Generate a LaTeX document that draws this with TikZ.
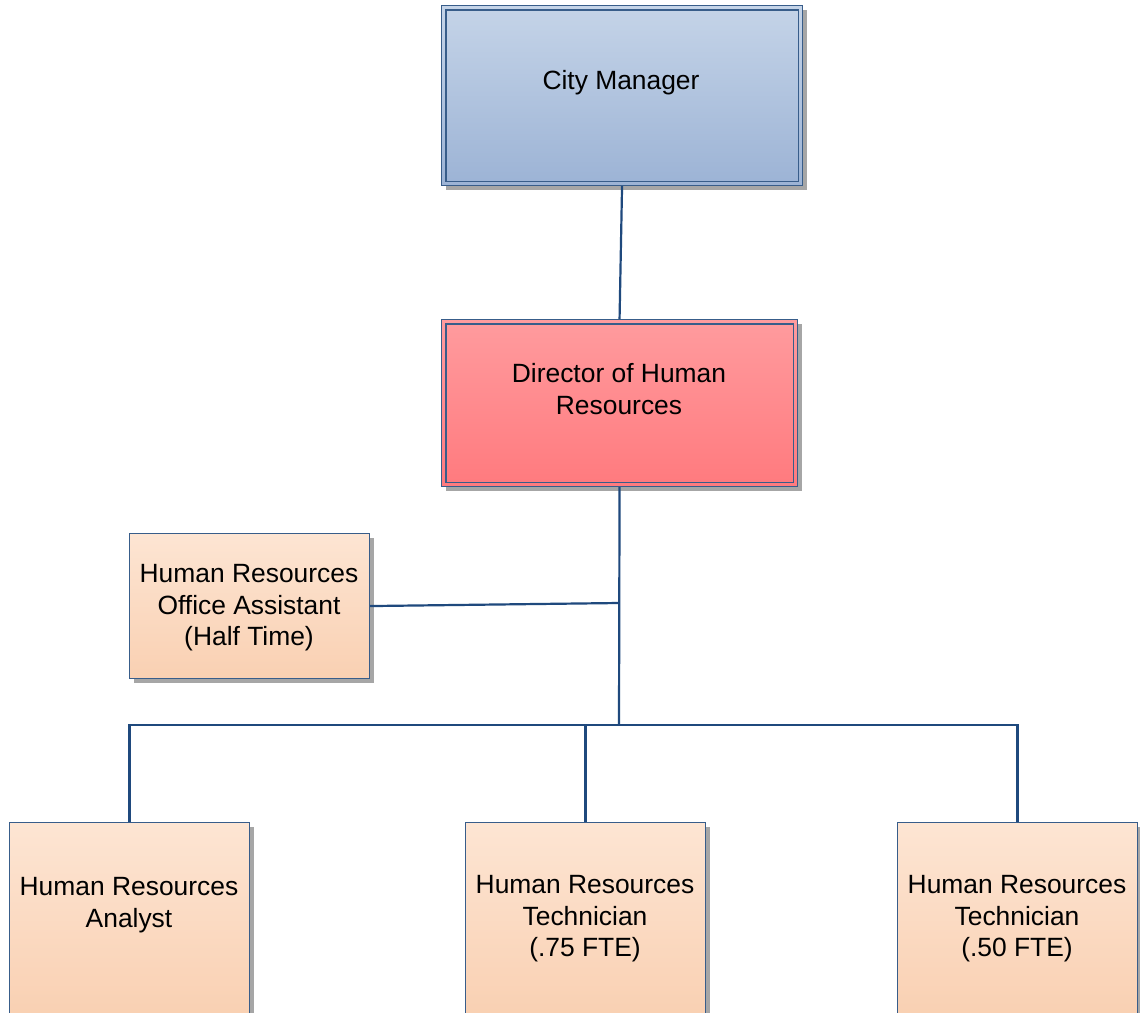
\documentclass[tikz,border=0pt]{standalone}
\usepackage{fontspec}
\setmainfont{Liberation Sans}
\usetikzlibrary{shadows}
\definecolor{bordc}{RGB}{56,93,138}
\definecolor{connc}{RGB}{31,73,125}
\definecolor{cmtop}{RGB}{197,212,232}
\definecolor{cmbot}{RGB}{156,179,213}
\definecolor{dirtop}{RGB}{255,155,158}
\definecolor{dirbot}{RGB}{255,122,126}
\definecolor{petop}{RGB}{253,229,211}
\definecolor{pebot}{RGB}{249,208,178}
\begin{document}
\begin{tikzpicture}[x=1pt,y=-1pt,
  box/.style={rectangle, draw=bordc, line width=1.1pt, inner sep=0pt, anchor=north west,
    drop shadow={shadow xshift=4pt, shadow yshift=-4pt, fill=black!35, opacity=1}},
  cmbox/.style={box, top color=cmtop, bottom color=cmbot},
  dirbox/.style={box, top color=dirtop, bottom color=dirbot},
  pebox/.style={box, top color=petop, bottom color=pebot},
  lbl/.style={align=center, inner sep=0pt, font=\fontsize{26.4}{31.5}\selectfont},
  conn/.style={draw=connc, line width=2.2pt},
  inner/.style={draw=bordc, line width=1.1pt}]
\clip (0,0) rectangle (1140,1012);
\fill[white] (0,0) rectangle (1140,1012);

% boxes
\node[cmbox, minimum width=361pt, minimum height=180pt] (cm) at (441,5) {};
\draw[inner] ([xshift=5pt,yshift=-5pt]cm.north west) rectangle ([xshift=-5pt,yshift=5pt]cm.south east);
\node[dirbox, minimum width=356pt, minimum height=167pt] (dir) at (441,319) {};
\draw[inner] ([xshift=5pt,yshift=-5pt]dir.north west) rectangle ([xshift=-5pt,yshift=5pt]dir.south east);
\node[pebox, minimum width=240pt, minimum height=145pt] (oa) at (129,533) {};
\node[pebox, minimum width=240pt, minimum height=195pt] (an) at (9,822) {};
\node[pebox, minimum width=240pt, minimum height=195pt] (t75) at (465,822) {};
\node[pebox, minimum width=240pt, minimum height=195pt] (t50) at (897,822) {};

% labels
\node[lbl] (cmt) at (621,83) {City Manager};
\node[lbl] (dirt) at (619,389) {Director of Human\\Resources};
\node[lbl] (oat) at (249,608) {Human Resources\\Office Assistant\\(Half Time)};
\node[lbl] (ant) at (129,905) {Human Resources\\Analyst};
\node[lbl] (t75t) at (585,919) {Human Resources\\Technician\\(.75 FTE)};
\node[lbl] (t50t) at (1017,919) {Human Resources\\Technician\\(.50 FTE)};

% connectors
\coordinate (j1) at (619,603);
\coordinate (bus) at (619,725);
\draw[conn] (cm.south) -- (dir.north);
\draw[conn] (dir.south) -- (bus);
\draw[conn] (oa.east) -- (j1);
\draw[conn] (an.north) -- (an.north |- bus) -- (t50.north |- bus) -- (t50.north);
\draw[conn] (t75.north) -- (t75.north |- bus);
\end{tikzpicture}
\end{document}
